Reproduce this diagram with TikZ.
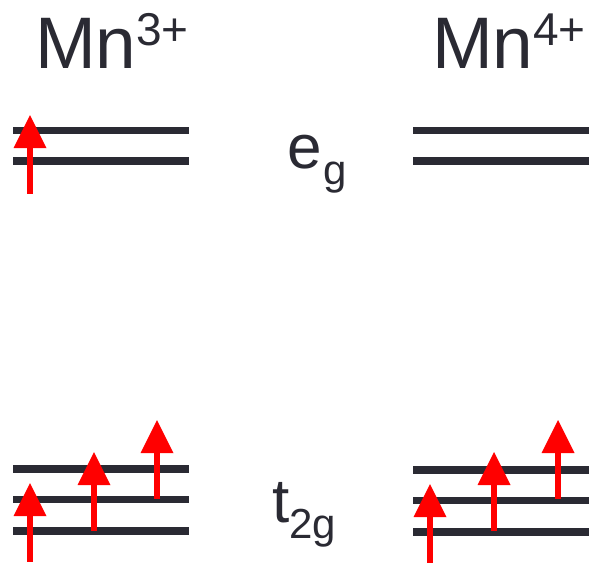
\documentclass[tikz,border=0pt]{standalone}
\usepackage{fontspec}
\setmainfont{Liberation Sans}
\definecolor{ink}{HTML}{2A2A33}
\definecolor{spinred}{HTML}{FF0000}
\newcommand\bigtxt{\fontsize{73}{80}\selectfont}
\newcommand\midtxt{\fontsize{62}{70}\selectfont}
\newcommand\suptxt[1]{\raisebox{23pt}{\fontsize{46}{50}\selectfont #1}}
\newcommand\subtxt[1]{\raisebox{-16pt}{\fontsize{42}{46}\selectfont #1}}
\tikzset{
  level/.style={draw=ink, line width=7.5pt},
  label/.style={inner sep=0pt, outer sep=0pt, anchor=base west, text=ink},
  spin/.pic={
    \fill[spinred] (-3,0) rectangle (3,-47);
    \fill[spinred] (-16.5,-46) -- (16.5,-46) -- (0,-79) -- cycle;
  }
}
\begin{document}
\begin{tikzpicture}[x=1pt,y=-1pt]
\useasboundingbox (0,0) rectangle (598,563);
% titles
\node[label] (mn3) at (35,68) {\bigtxt Mn\suptxt{3+}};
\node[label] (mn4) at (432,68) {\bigtxt Mn\suptxt{4+}};
\node[label] (eg) at (287.5,168) {\midtxt e\kern2pt\subtxt{g}};
\node[label] (t2g) at (272,522) {\midtxt t\subtxt{2g}};
% left levels
\draw[level] (13,130.5) -- (189,130.5);
\draw[level] (13,161) -- (189,161);
\draw[level] (13,469) -- (189,469);
\draw[level] (13,499.5) -- (189,499.5);
\draw[level] (13,531) -- (189,531);
% right levels
\draw[level] (413,130.5) -- (589,130.5);
\draw[level] (413,161) -- (589,161);
\draw[level] (413,470) -- (589,470);
\draw[level] (413,500.5) -- (589,500.5);
\draw[level] (413,532) -- (589,532);
% spins
\pic at (30,194) {spin};
\pic at (30,562) {spin};
\pic at (94,531) {spin};
\pic at (157,499) {spin};
\pic at (430,563) {spin};
\pic at (494,531) {spin};
\pic at (558,499) {spin};
\end{tikzpicture}
\end{document}
